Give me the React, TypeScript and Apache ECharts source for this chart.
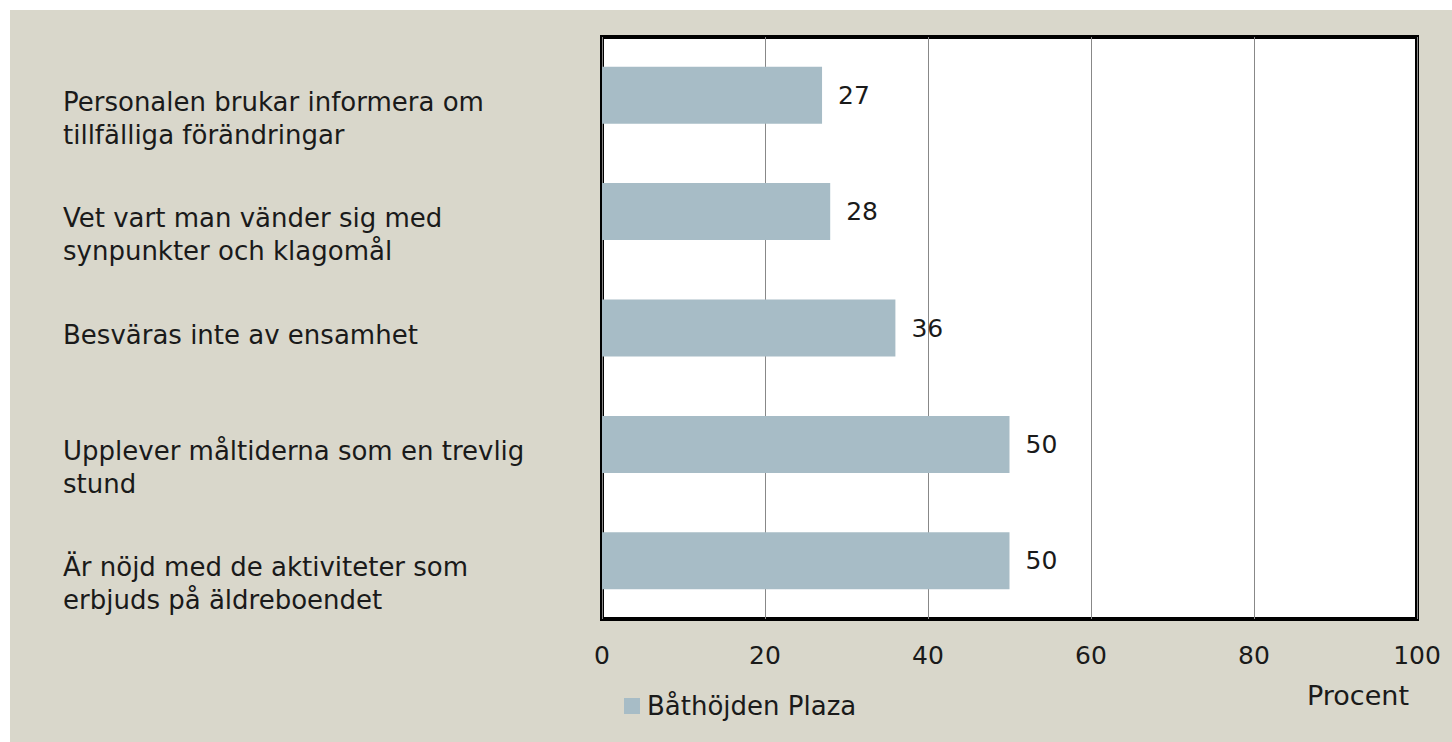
import React, { useEffect, useRef } from "react";
import * as echarts from "echarts";

const categories = [
  "Är nöjd med de aktiviteter som\nerbjuds på äldreboendet",
  "Upplever måltiderna som en trevlig\nstund",
  "Besväras inte av ensamhet",
  "Vet vart man vänder sig med\nsynpunkter och klagomål",
  "Personalen brukar informera om\ntillfälliga förändringar",
];
const values = [50, 50, 36, 28, 27];
const seriesName = "Båthöjden Plaza";
const xTicks = { min: 0, max: 100, interval: 20 };
const axisTitle = "Procent";

const FONT = "DejaVu Sans";

export default function App() {
  const ref = useRef<HTMLDivElement>(null);
  useEffect(() => {
    if (!ref.current) return;
    const chart = echarts.init(ref.current, undefined, { renderer: "svg" });
    chart.setOption({
      animation: false,
      backgroundColor: "#D9D7CB",
      textStyle: { fontFamily: FONT },
      grid: {
        left: 592,
        top: 27,
        right: 35,
        bottom: 123,
        show: true,
        backgroundColor: "#FFFFFF",
        borderColor: "#000000",
        borderWidth: 4,
      },
      legend: {
        left: 614,
        top: 683,
        padding: 0,
        itemWidth: 16,
        itemHeight: 16,
        itemGap: 10,
        icon: "rect",
        textStyle: { fontFamily: FONT, fontSize: 26, color: "#1a1a1a", padding: [0, 0, 0, 2] },
        data: [seriesName],
      },
      xAxis: {
        type: "value",
        min: xTicks.min,
        max: xTicks.max,
        interval: xTicks.interval,
        axisLine: { show: false },
        axisTick: { show: false },
        splitLine: { show: true, lineStyle: { color: "#888888", width: 1 } },
        axisLabel: { fontFamily: FONT, fontSize: 25, color: "#1a1a1a", margin: 24 },
      },
      yAxis: {
        type: "category",
        data: categories,
        axisLine: { show: false },
        axisTick: { show: false },
        splitLine: { show: false },
        axisLabel: {
          interval: 0,
          fontFamily: FONT,
          fontSize: 26,
          color: "#1a1a1a",
          align: "left",
          verticalAlign: "top",
          lineHeight: 33,
          padding: [-10, 0, 0, 0],
          margin: 539,
        },
      },
      series: [
        {
          type: "bar",
          name: seriesName,
          data: values,
          barWidth: "49%",
          itemStyle: { color: "#A7BCC6" },
          label: {
            show: true,
            position: "right",
            distance: 16,
            fontFamily: FONT,
            fontSize: 25,
            color: "#1a1a1a",
          },
        },
      ],
      graphic: [
        {
          type: "text",
          right: 43,
          top: 672,
          style: { text: axisTitle, font: `27px "${FONT}"`, fill: "#1a1a1a" },
        },
      ],
    });
    return () => chart.dispose();
  }, []);
  return (
    <div style={{ position: "fixed", left: 0, top: 0, width: 1452, height: 742, background: "#fff" }}>
      <div ref={ref} style={{ position: "absolute", left: 10, top: 10, width: 1442, height: 732 }} />
    </div>
  );
}
